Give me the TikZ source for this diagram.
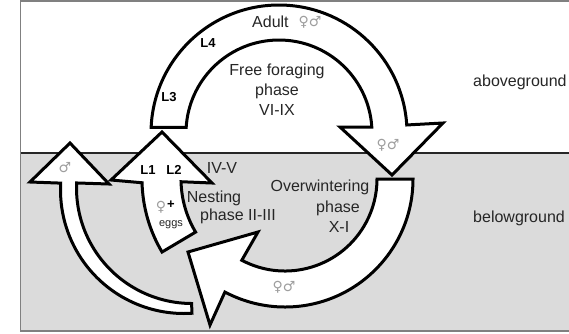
\documentclass[tikz,border=0pt]{standalone}
\usepackage{fontspec}
\setmainfont{Liberation Sans}
\newfontfamily\symfont{DejaVu Sans}
\usetikzlibrary{calc}
\definecolor{ground}{gray}{0.86}
\definecolor{framegray}{gray}{0.5}
\definecolor{ink}{gray}{0.15}
\definecolor{sexgray}{gray}{0.62}
\begin{document}
\begin{tikzpicture}[x=1pt,y=-1pt,
  band/.style={draw=black, fill=white, line width=3pt, line join=miter},
  lbl/.style={inner sep=0pt, text=ink, font=\fontsize{16}{20}\selectfont},
  stage/.style={inner sep=0pt, text=black, font=\bfseries\fontsize{13}{15}\selectfont},
  sex/.style={inner sep=0pt, text=sexgray, font=\symfont\fontsize{14}{16}\selectfont},
  small/.style={inner sep=0pt, text=ink, font=\fontsize{11}{13}\selectfont},
]
\useasboundingbox (0,0) rectangle (569,333);
\fill[white] (0,0) rectangle (569,333);
% soil and frame
\fill[ground] (20.5,153) rectangle (569,331);
\draw[framegray, line width=1.5pt] (569,1) -- (20.5,1) -- (20.5,331) -- (569,331);
\draw[ink, line width=1.2pt] (20.5,153) -- (569,153);

% centres of the circular bands
\coordinate (U) at (279,133);
\coordinate (L) at (285,179);
\coordinate (M1) at (184,190);
\coordinate (M2) at (192,188);

% free foraging phase (above ground)
\draw[band] ($(U)+(182.5:128)$) arc[start angle=182.5, end angle=356.4, radius=128]
  -- (443,123) -- (392,175) -- (340,127)
  -- ($(U)+(356.3:93)$) arc[start angle=356.3, end angle=183.4, radius=93] -- cycle;

% overwintering phase
\draw[band] ($(L)+(0:92)$) -- ($(L)+(0:128)$) arc[start angle=0, end angle=118, radius=128]
  -- (210,325) -- (188,252) -- (258,232)
  -- ($(L)+(118:92)$) arc[start angle=118, end angle=0, radius=92] -- cycle;

% males leaving the nest
\draw[band] ($(M1)+(86.3:123.5)$) arc[start angle=86.3, end angle=183.2, radius=123.5]
  -- (30,182) -- (70,143) -- (109,184)
  -- ($(M2)+(182.5:115.5)$) arc[start angle=182.5, end angle=90.2, radius=115.5] -- cycle;

% nesting phase
\draw[band] ($(L)+(149.3:104)$) -- ($(L)+(149.3:143)$) arc[start angle=149.3, end angle=178.5, radius=143]
  -- (111,180) -- (162,132) -- (212,183)
  -- ($(L)+(178.5:104)$) arc[start angle=178.5, end angle=149.3, radius=104] -- cycle;

% labels
\node[lbl, anchor=west] (adult) at (252,22) {Adult};
\node[sex] (sexT) at (310,22) {♀♂};
\node[lbl, align=center] (ffp) at (277,90) {Free foraging\\phase\\VI-IX};
\node[lbl, anchor=west] (above) at (473,82) {aboveground};
\node[lbl, anchor=west] (below) at (473,218) {belowground};
\node[lbl] (ivv) at (222,168) {IV-V};
\node[lbl] (nest1) at (214,198) {Nesting};
\node[lbl] (nest2) at (238,216) {phase II-III};
\node[lbl] (ow1) at (320,187) {Overwintering};
\node[lbl] (ow2) at (338,208) {phase};
\node[lbl] (ow3) at (339,227) {X-I};
\node[sex] (sexA) at (388,145) {♀♂};
\node[sex] (sexB) at (284,287) {♀♂};
\node[sex] (male) at (65,168) {♂};
\node[stage] (l1) at (148,170) {L1};
\node[stage] (l2) at (174,170) {L2};
\node[stage] (l3) at (169,97) {L3};
\node[stage] (l4) at (208,43) {L4};
\node[sex] (fem) at (161,207) {♀};
\node[stage] (plus) at (171,205) {+};
\node[small] (eggs) at (171,225) {eggs};
\end{tikzpicture}
\end{document}
